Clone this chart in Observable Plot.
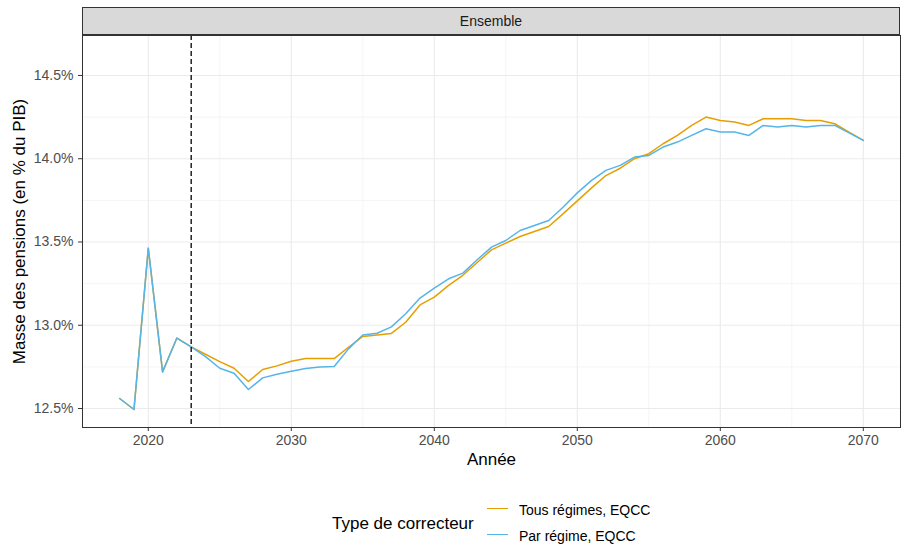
<!DOCTYPE html>
<html>
<head>
<meta charset="utf-8">
<script src="https://cdn.jsdelivr.net/npm/d3@7"></script>
<script src="https://cdn.jsdelivr.net/npm/@observablehq/plot@0.6"></script>
<style>
  body { margin: 0; background: #fff; font-family: "Liberation Sans", Arial, sans-serif; }
  #wrap { position: relative; width: 902px; height: 544px; }
  #strip { position: absolute; left: 82px; top: 7px; width: 816px; height: 26px;
    background: #d9d9d9; border: 1px solid #333; font-size: 14px; color: #1a1a1a;
    display: flex; align-items: center; justify-content: center; }
  .ltitle { position: absolute; left: 332px; top: 514px; font-size: 17px; line-height: 19px; color: #000; }
  .key { position: absolute; left: 487px; width: 21px; height: 0; border-top: 1.5px solid; }
  .klab { position: absolute; left: 519px; font-size: 14px; line-height: 16px; color: #000; }
</style>
</head>
<body>
<div id="wrap">
  <div id="chart"></div>
  <div id="strip">Ensemble</div>
</div>
<script>
// Pension spending as a share of GDP, by correction mechanism
const years = d3.range(2018, 2071);
const tousRegimes = [
  12.56, 12.494, 13.463, 12.72, 12.923, 12.87, 12.826, 12.782, 12.742, 12.662,
  12.734, 12.756, 12.784, 12.80, 12.80, 12.80, 12.868, 12.933, 12.942, 12.951,
  13.018, 13.122, 13.169, 13.239, 13.30, 13.377, 13.453, 13.493, 13.533, 13.563,
  13.593, 13.669, 13.747, 13.825, 13.899, 13.943, 14.00, 14.03, 14.09, 14.14,
  14.20, 14.25, 14.23, 14.22, 14.20, 14.24, 14.24, 14.24, 14.23, 14.23,
  14.21, 14.16, 14.11
];
const parRegime = [
  12.56, 12.494, 13.463, 12.72, 12.923, 12.87, 12.812, 12.742, 12.712, 12.614,
  12.684, 12.706, 12.724, 12.74, 12.75, 12.752, 12.858, 12.942, 12.952, 12.99,
  13.069, 13.163, 13.223, 13.279, 13.313, 13.393, 13.469, 13.509, 13.569, 13.599,
  13.629, 13.709, 13.795, 13.87, 13.93, 13.96, 14.01, 14.02, 14.07, 14.10,
  14.14, 14.18, 14.16, 14.16, 14.14, 14.20, 14.19, 14.20, 14.19, 14.20,
  14.20, 14.155, 14.11
];
const seriesNames = ["Tous régimes, EQCC", "Par régime, EQCC"];
const seriesColors = ["#E69F00", "#56B4E9"];
const xMajor = [2020, 2030, 2040, 2050, 2060, 2070];
const xMinor = [2025, 2035, 2045, 2055, 2065];
const yMajor = [12.5, 13.0, 13.5, 14.0, 14.5];
const yMinor = [12.75, 13.25, 13.75, 14.25];
const lastObserved = 2023;

const rows = [
  ...years.map((year, i) => ({year, value: tousRegimes[i], serie: seriesNames[0]})),
  ...years.map((year, i) => ({year, value: parRegime[i], serie: seriesNames[1]}))
];

const gridStyle = {stroke: "#ebebeb", strokeOpacity: 1};

const chart = Plot.plot({
  width: 902,
  height: 480,
  marginTop: 35,
  marginLeft: 82,
  marginRight: 2,
  marginBottom: 53,
  style: {fontFamily: "Liberation Sans, Arial, sans-serif", background: "#fff"},
  x: {domain: [2015.4, 2072.6]},
  y: {domain: [12.386, 14.74]},
  color: {domain: seriesNames, range: seriesColors},
  marks: [
    Plot.gridX(xMinor, {...gridStyle, strokeWidth: 0.55}),
    Plot.gridY(yMinor, {...gridStyle, strokeWidth: 0.55}),
    Plot.gridX(xMajor, {...gridStyle, strokeWidth: 1.1}),
    Plot.gridY(yMajor, {...gridStyle, strokeWidth: 1.1}),
    Plot.lineY(rows, {x: "year", y: "value", stroke: "serie", z: "serie", strokeWidth: 1.5}),
    Plot.ruleX([lastObserved], {stroke: "#000", strokeWidth: 1.3, strokeDasharray: "5,3"}),
    Plot.frame({stroke: "#333", strokeWidth: 1}),
    Plot.axisX(xMajor, {tickSize: 4, tickPadding: 4, stroke: "#333", fill: "#4d4d4d",
      fontSize: 14, tickFormat: d => String(d), label: null}),
    Plot.axisY(yMajor, {tickSize: 4, tickPadding: 5, stroke: "#333", fill: "#4d4d4d",
      fontSize: 14, tickFormat: d => d.toFixed(1) + "%", label: null}),
    Plot.text(["Année"], {frameAnchor: "bottom", dy: 37, fontSize: 17, fill: "#000"}),
    Plot.text(["Masse des pensions (en % du PIB)"], {frameAnchor: "left", textAnchor: "middle",
      dx: -63, rotate: -90, fontSize: 17, fill: "#000"})
  ]
});
document.getElementById("chart").appendChild(chart);

// Legend below the panel
const wrap = document.getElementById("wrap");
const title = document.createElement("div");
title.className = "ltitle";
title.textContent = "Type de correcteur";
wrap.appendChild(title);
const keyY = [509, 535];
seriesNames.forEach((name, i) => {
  const k = document.createElement("div");
  k.className = "key";
  k.style.top = (keyY[i] - 1) + "px";
  k.style.borderTopColor = seriesColors[i];
  wrap.appendChild(k);
  const l = document.createElement("div");
  l.className = "klab";
  l.style.top = (keyY[i] - 7) + "px";
  l.textContent = name;
  wrap.appendChild(l);
});
</script>
</body>
</html>
